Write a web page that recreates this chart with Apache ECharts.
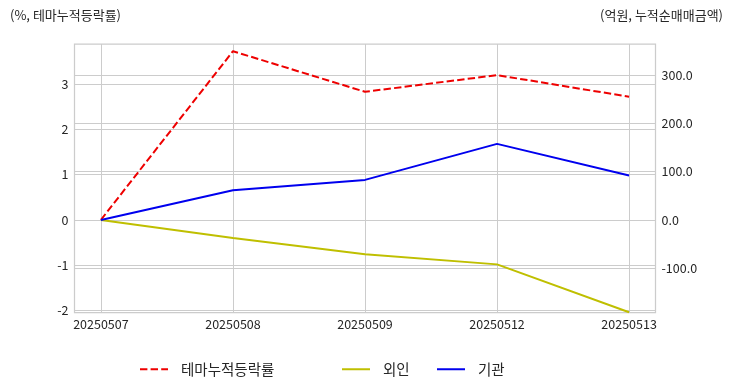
<!DOCTYPE html>
<html>
<head>
<meta charset="utf-8">
<script src="https://cdn.jsdelivr.net/npm/echarts@6/dist/echarts.min.js"></script>
<style>
html,body{margin:0;padding:0;background:#fff;}
#c{width:732px;height:392px;}
</style>
</head>
<body>
<div id="c"></div>
<script>
const categories = ['20250507', '20250508', '20250509', '20250512', '20250513'];
const themeReturn = [0, 3.74, 2.84, 3.21, 2.73];
const foreign = [0, -37.5, -71, -92, -191];
const institution = [0, 61.5, 82.8, 157.3, 91.7];
const leftTicks = [-2, -1, 0, 1, 2, 3];
const rightTicks = [-100, 0, 100, 200, 300];

const FONT = "'Noto Sans CJK KR', 'Noto Sans', sans-serif";
const TXT = '#262626';
const idx = categories.map((c, i) => i);
const toPts = arr => arr.map((v, i) => [i, v]);

const chart = echarts.init(document.getElementById('c'), null, {renderer: 'canvas'});
const legendBase = {
  orient: 'horizontal', top: 357, itemWidth: 28, itemHeight: 16,
  itemStyle: {opacity: 0},
  textStyle: {fontFamily: FONT, fontSize: 14.5, color: TXT, padding: [0, 0, 0, 8]}
};
chart.setOption({
  animation: false,
  textStyle: {fontFamily: FONT},
  title: [
    {text: '(%, 테마누적등락률)', left: 5, top: 4,
     textStyle: {fontFamily: FONT, fontSize: 13, fontWeight: 'normal', color: TXT}},
    {text: '(억원, 누적순매매금액)', right: 4, top: 4,
     textStyle: {fontFamily: FONT, fontSize: 13, fontWeight: 'normal', color: TXT}}
  ],
  legend: [
    Object.assign({}, legendBase, {left: 134, data: ['테마누적등락률']}),
    Object.assign({}, legendBase, {left: 336, data: ['외인']}),
    Object.assign({}, legendBase, {left: 431, data: ['기관']})
  ],
  grid: {left: 74.5, right: 76.5, top: 44, bottom: 79.3, show: true,
         borderColor: '#cccccc', borderWidth: 1.25, containLabel: false},
  xAxis: {
    type: 'value', min: -0.2, max: 4.2,
    axisLine: {show: false},
    axisTick: {show: false, customValues: idx},
    axisLabel: {customValues: idx, formatter: v => categories[Math.round(v)] || '',
                fontFamily: FONT, fontSize: 12.5, color: TXT, margin: 5},
    splitLine: {show: true, lineStyle: {color: '#cccccc', width: 1}}
  },
  yAxis: [
    {type: 'value', position: 'left', min: -2.06, max: 3.9,
     axisLine: {show: false},
     axisTick: {show: false, customValues: leftTicks},
     axisLabel: {customValues: leftTicks, formatter: v => String(Math.round(v)),
                 fontFamily: FONT, fontSize: 12.5, color: TXT, margin: 6},
     splitLine: {show: true, lineStyle: {color: '#cccccc', width: 1}}},
    {type: 'value', position: 'right', min: -192, max: 364,
     axisLine: {show: false},
     axisTick: {show: false, customValues: rightTicks},
     axisLabel: {customValues: rightTicks, formatter: v => v.toFixed(1),
                 fontFamily: FONT, fontSize: 12.5, color: TXT, margin: 6},
     splitLine: {show: true, lineStyle: {color: '#cccccc', width: 1}}}
  ],
  series: [
    {name: '테마누적등락률', type: 'line', yAxisIndex: 0, data: toPts(themeReturn),
     symbol: 'none', color: '#ee0000',
     lineStyle: {color: '#ee0000', width: 2, type: [7.4, 3.2]}},
    {name: '외인', type: 'line', yAxisIndex: 1, data: toPts(foreign),
     symbol: 'none', color: '#bfbf00',
     lineStyle: {color: '#bfbf00', width: 2}},
    {name: '기관', type: 'line', yAxisIndex: 1, data: toPts(institution),
     symbol: 'none', color: '#0000ee',
     lineStyle: {color: '#0000ee', width: 2}}
  ]
});
</script>
</body>
</html>
